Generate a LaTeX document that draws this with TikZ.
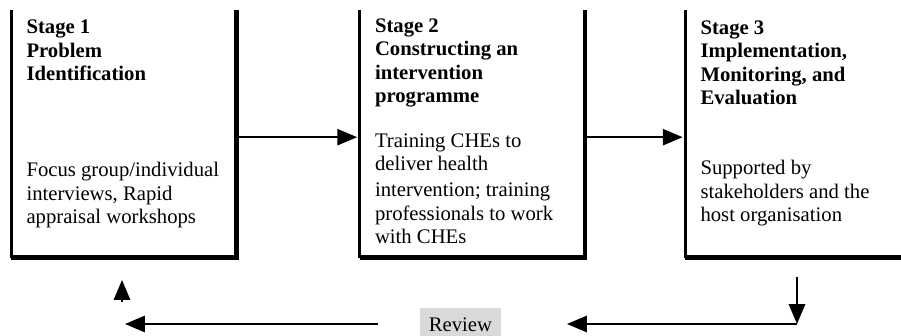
\documentclass[tikz,border=0pt]{standalone}
\usepackage{xcolor}
\usepackage{fontspec}
\setmainfont{Liberation Serif}
\usepackage{tikz}
\usetikzlibrary{arrows.meta,positioning}

\definecolor{reviewgray}{HTML}{D9D9D9}

\tikzset{
    stage/.style={
        inner sep=0pt,
        minimum width=129.9pt,
        minimum height=141.8pt
    },
    stageline/.style={
        line width=1.7pt,
        line cap=rect
    },
    % base west sits on the last line of the text
    heading/.style={
        anchor=base west,
        inner sep=0pt,
        align=left,
        font=\fontsize{12}{13.6}\selectfont\bfseries
    },
    body/.style={
        anchor=base west,
        inner sep=0pt,
        align=left,
        font=\fontsize{12}{13.6}\selectfont
    },
    flow/.style={
        line width=0.9pt,
        -{Triangle[length=11.5pt,width=9.5pt]}
    }
}

\begin{document}
\begin{tikzpicture}[x=0.58pt,y=-0.58pt]
                \useasboundingbox (0,0) rectangle (901,336);
                \clip (0,0) rectangle (901,336);

                \node[stage] (s1) at (123.5,134.25) {};
                \node[stage] (s2) at (472,134.25) {};
                \node[stage] (s3) at (797.5,134.25) {};

                % open boxes with a shadow on the lower right
                \foreach \s in {s1,s2,s3} {
                    \draw[stageline]
                        ([shift={(1.5,1.5)}]\s.south west) -- ([shift={(1.5,1.5)}]\s.south east)
                        -- ([shift={(1.5,0)}]\s.north east);
                    \draw[stageline]
                        (\s.north west) -- (\s.south west) -- (\s.south east) -- (\s.north east);
                }

                \node[heading] (h1) at ([shift={(15,69)}]s1.north west)
                    {Stage 1\\Problem\\Identification};
                \node[body] (b1) at ([shift={(15,212)}]s1.north west)
                    {Focus group/individual\\interviews, Rapid\\appraisal workshops};

                \node[heading] (h2) at ([shift={(15,91)}]s2.north west)
                    {Stage 2\\Constructing an\\intervention\\programme};
                \node[body] (b2) at ([shift={(15,232)}]s2.north west)
                    {Training CHEs to\\deliver health\\[1.5pt]intervention; training\\professionals to work\\with CHEs};

                \node[heading] (h3) at ([shift={(15,93)}]s3.north west)
                    {Stage 3\\Implementation,\\Monitoring, and\\Evaluation};
                \node[body] (b3) at ([shift={(15,210)}]s3.north west)
                    {Supported by\\stakeholders and the\\host organisation};

                \draw[flow, shorten >=1.5pt] ([yshift=-1.7pt]s1.east) -- ([yshift=-1.7pt]s2.west);
                \draw[flow, shorten >=1.5pt] ([yshift=-1.7pt]s2.east) -- ([yshift=-1.7pt]s3.west);

                % review loop back to stage 1
                \node[
                    fill=reviewgray,
                    anchor=base,
                    inner xsep=5.2pt,
                    inner ysep=6pt,
                    text height=8pt,
                    text depth=3pt,
                    font=\fontsize{12}{13.6}\selectfont
                ] (rev) at (460.5,332) {Review};

                \coordinate (r1) at (797,277);
                \coordinate (r2) at (797,324);
                \coordinate (r3) at (567,324);
                \coordinate (r4) at (378,324);
                \coordinate (r5) at (125,324);
                \coordinate (u1) at (122,302);
                \coordinate (u2) at (122,280);

                \draw[flow] (r1) -- (r2);
                \draw[flow] (r2) -- (r3);
                \draw[flow] (r4) -- (r5);
                \draw[flow] (u1) -- (u2);

            \end{tikzpicture}
\end{document}
